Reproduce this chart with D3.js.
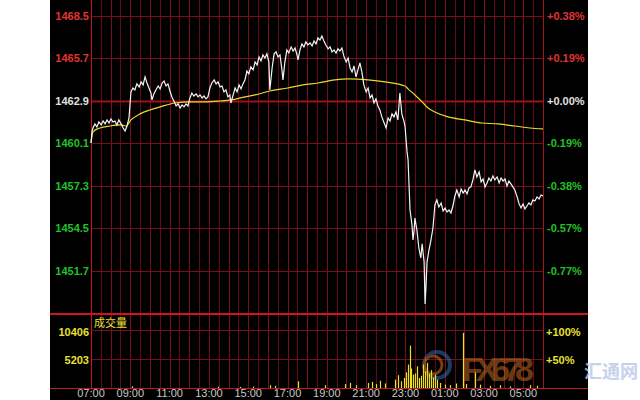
<!DOCTYPE html>
<html><head><meta charset="utf-8">
<script src="https://cdn.jsdelivr.net/npm/d3@7"></script>
<style>html,body{margin:0;padding:0;background:#fff;}svg{display:block;}</style>
</head><body><svg id="c" width="640" height="400"></svg>
<script>
const priceTimes=[0,3,6,12,18,24,31,37,43,49,55,61,67,73,79,85,92,98,104,110,116,122,128,134,140,147,153,159,165,171,177,183,186,192,198,205,211,217,223,229,235,241,247,253,260,266,272,278,284,290,296,302,308,314,321,327,333,339,345,351,357,363,369,376,382,388,394,400,406,412,418,424,427,434,440,446,452,458,464,470,476,482,488,495,501,507,513,519,525,531,537,543,546,553,559,565,571,577,583,586,592,598,604,611,617,623,629,632,638,644,650,656,662,669,675,681,687,693,699,705,711,717,724,730,736,742,748,754,760,766,772,779,785,791,797,803,809,815,821,827,833,840,846,852,858,864,870,876,882,888,895,901,907,913,919,925,931,937,943,949,956,959,962,965,968,971,974,980,983,986,989,995,1001,1007,1011,1017,1020,1023,1026,1032,1038,1044,1050,1056,1062,1069,1075,1081,1087,1093,1099,1105,1111,1117,1124,1130,1136,1142,1148,1154,1160,1166,1172,1178,1185,1191,1197,1203,1209,1215,1221,1227,1233,1240,1246,1252,1258,1264,1270,1276,1282,1288,1294,1301,1307,1313,1319,1325,1331,1337,1343,1349,1355,1362,1368,1374,1380];
const prices=[1460.12,1460.85,1461.11,1461.38,1461.18,1461.51,1461.31,1461.57,1461.38,1461.64,1461.44,1461.71,1461.51,1461.57,1461.31,1461.64,1461.38,1461.11,1460.91,1461.24,1461.77,1463.49,1463.75,1463.62,1464.02,1463.82,1464.15,1463.95,1464.48,1464.08,1463.75,1463.42,1462.96,1463.36,1463.62,1463.88,1463.69,1464.08,1464.21,1463.88,1464.02,1463.55,1463.16,1462.89,1462.56,1462.70,1462.43,1462.63,1462.50,1462.70,1462.56,1463.09,1463.42,1463.22,1463.36,1463.16,1463.29,1463.09,1463.22,1463.03,1463.16,1463.75,1464.08,1464.28,1464.02,1464.15,1463.82,1463.88,1463.49,1463.62,1463.16,1463.29,1462.76,1463.29,1463.75,1463.49,1463.95,1463.69,1464.02,1464.28,1464.87,1464.68,1465.14,1464.94,1465.47,1465.27,1465.80,1465.53,1465.93,1465.73,1466.00,1465.47,1463.62,1465.07,1466.00,1466.13,1465.80,1465.93,1464.94,1464.28,1465.47,1466.26,1466.06,1466.46,1466.19,1466.39,1465.93,1465.60,1466.26,1466.66,1466.46,1466.79,1466.59,1466.72,1466.52,1466.85,1466.66,1467.05,1466.92,1467.18,1466.85,1466.59,1466.33,1466.46,1466.13,1466.26,1466.06,1466.33,1466.19,1466.39,1465.86,1465.47,1465.73,1465.07,1464.81,1465.20,1464.48,1464.94,1465.40,1464.81,1463.95,1463.49,1463.75,1463.09,1463.29,1462.76,1463.03,1462.56,1462.30,1461.84,1461.44,1461.11,1461.77,1461.57,1462.04,1461.84,1462.17,1461.64,1463.42,1462.04,1461.51,1461.18,1460.32,1459.53,1459.00,1457.35,1455.70,1454.71,1453.72,1454.25,1455.17,1454.38,1453.19,1452.53,1453.46,1452.27,1449.50,1450.75,1452.27,1453.06,1453.72,1454.51,1456.03,1456.36,1455.90,1456.16,1455.63,1455.83,1455.57,1455.70,1455.50,1455.96,1456.62,1457.02,1456.56,1457.09,1456.82,1457.02,1456.76,1457.15,1457.22,1457.68,1458.34,1457.88,1458.21,1457.55,1457.75,1457.22,1457.48,1457.81,1457.61,1457.94,1457.68,1457.88,1457.48,1457.81,1457.61,1457.75,1457.28,1457.61,1457.42,1457.22,1457.02,1456.56,1456.10,1455.83,1456.10,1455.77,1455.96,1456.16,1456.03,1456.36,1456.29,1456.56,1456.43,1456.69,1456.62];
const avgTimes=[0,6,27,58,92,107,122,150,180,211,256,302,348,394,427,470,501,546,601,647,693,745,785,846,898,959,968,989,1011,1029,1050,1090,1142,1194,1243,1294,1340,1380];
const avgPrices=[1460.12,1460.85,1461.11,1461.24,1461.31,1461.24,1461.64,1462.04,1462.30,1462.50,1462.76,1462.83,1462.83,1462.89,1462.96,1463.16,1463.29,1463.55,1463.75,1463.95,1464.08,1464.28,1464.35,1464.28,1464.15,1463.88,1463.69,1463.29,1462.83,1462.43,1462.17,1461.84,1461.64,1461.44,1461.38,1461.24,1461.11,1461.05];
const volTimes=[125,388,455,495,546,562,632,714,775,790,809,846,858,870,882,898,928,937,946,956,962,968,974,977,983,989,995,1001,1007,1013,1020,1026,1032,1038,1044,1050,1056,1066,1081,1096,1114,1136,1145,1172,1188,1218,1249,1279,1340,1361];
const volumes=[300,250,200,250,500,400,1200,500,700,900,500,900,1100,700,1300,800,1500,2300,1200,1800,2800,4200,7600,3500,2400,2600,3900,1800,2200,4200,3000,4500,2600,3200,1900,2400,1500,900,600,500,800,9900,700,2800,600,400,500,300,500,400];
const priceTicks=[1468.5,1465.7,1462.9,1460.1,1457.3,1454.5,1451.7];
const pctLabels=["+0.38%","+0.19%","+0.00%","-0.19%","-0.38%","-0.57%","-0.77%"];
const timeLabels=["07:00","09:00","11:00","13:00","15:00","17:00","19:00","21:00","23:00","01:00","03:00","05:00"];
const volTicks=[10406,5203];
const volPctLabels=["+100%","+50%"];
const basePrice=1462.9;

const svg=d3.select("#c");
const L=91,R=543,T=0,B=313,VB=388;
svg.append("rect").attr("x",50).attr("y",0).attr("width",538).attr("height",400).attr("fill","#000");

const x=d3.scaleLinear().domain([0,1380]).range([L,R]);
const y=d3.scaleLinear().domain([1448.9,1468.5]).range([B,16]);
const yv=d3.scaleLinear().domain([0,10406]).range([VB,330]);

const vt=d3.range(30,1380,30);
const g=svg.append("g");
g.selectAll("line.v").data(vt).enter().append("line")
 .attr("x1",d=>Math.round(x(d))+0.5).attr("x2",d=>Math.round(x(d))+0.5)
 .attr("y1",T).attr("y2",VB).attr("stroke",d=>d%60===0?"#7c0e1a":"#640a14").attr("stroke-width",1);
g.selectAll("line.h").data(priceTicks).enter().append("line")
 .attr("x1",L).attr("x2",R).attr("y1",d=>Math.round(y(d))+0.5).attr("y2",d=>Math.round(y(d))+0.5)
 .attr("stroke",d=>d===basePrice?"#a0101c":"#7c0e1a").attr("stroke-width",d=>d===basePrice?2:1);
g.selectAll("line.vh").data(volTicks).enter().append("line")
 .attr("x1",L).attr("x2",R).attr("y1",d=>Math.round(yv(d))+0.5).attr("y2",d=>Math.round(yv(d))+0.5)
 .attr("stroke","#7c0e1a");
g.append("line").attr("x1",L+0.5).attr("x2",L+0.5).attr("y1",T).attr("y2",VB).attr("stroke","#c01822");
g.append("line").attr("x1",R+0.5).attr("x2",R+0.5).attr("y1",T).attr("y2",VB).attr("stroke","#a8141e");
g.append("line").attr("x1",50).attr("x2",588).attr("y1",B+1).attr("y2",B+1).attr("stroke","#d0141e").attr("stroke-width",2);
g.append("line").attr("x1",50).attr("x2",588).attr("y1",VB+0.5).attr("y2",VB+0.5).attr("stroke","#c01822").attr("stroke-width",1);

// watermark
const wm=svg.append("g").attr("opacity",0.55);
wm.append("circle").attr("cx",437).attr("cy",365).attr("r",13).attr("fill","none").attr("stroke","#3a6ab0").attr("stroke-width",4);
wm.append("circle").attr("cx",433).attr("cy",365).attr("r",9).attr("fill","none").attr("stroke","#d07020").attr("stroke-width",3);
wm.append("text").attr("x",462).attr("y",381).text("FX678").attr("font-family","Liberation Sans Narrow, Liberation Sans, sans-serif").attr("font-weight","bold").attr("font-size",34).attr("fill","#c06a20").attr("textLength",72);
svg.append("text").attr("x",584).attr("y",378).text("汇通网").attr("font-family","Noto Sans CJK SC").attr("font-weight","bold").attr("font-size",18).attr("fill","#b8c8e8").attr("opacity",0.8);

svg.selectAll("line.vol").data(volTimes).enter().append("line")
 .attr("x1",d=>Math.round(x(d))+0.5).attr("x2",d=>Math.round(x(d))+0.5)
 .attr("y1",VB).attr("y2",(d,i)=>yv(volumes[i])).attr("stroke","#f0e020").attr("stroke-width",1.2);

const avgLine=d3.line().x((d,i)=>x(avgTimes[i])).y(d=>y(d)).curve(d3.curveMonotoneX);
svg.append("path").attr("d",avgLine(avgPrices)).attr("fill","none").attr("stroke","#e8d830").attr("stroke-width",1.2);
const pLine=d3.line().x((d,i)=>x(priceTimes[i])).y(d=>y(d));
svg.append("path").attr("d",pLine(prices)).attr("fill","none").attr("stroke","#f4f4f4").attr("stroke-width",1.2);

const col=d=>d>basePrice+0.01?"#e03434":(d<basePrice-0.01?"#22c02a":"#e0e0e0");
const F="Liberation Sans, Arial, sans-serif";
svg.selectAll("text.pl").data(priceTicks).enter().append("text")
 .attr("x",89).attr("y",d=>y(d)+4).attr("text-anchor","end").text(d=>d.toFixed(1))
 .attr("font-family",F).attr("font-weight","bold").attr("font-size",11).attr("fill",col);
svg.selectAll("text.pr").data(priceTicks).enter().append("text")
 .attr("x",547).attr("y",d=>y(d)+4).text((d,i)=>pctLabels[i])
 .attr("font-family",F).attr("font-weight","bold").attr("font-size",11).attr("fill",col);
svg.selectAll("text.vl").data(volTicks).enter().append("text")
 .attr("x",89).attr("y",(d,i)=>i===0?yv(d)+6:yv(d)+5).attr("text-anchor","end").text(d=>d)
 .attr("font-family",F).attr("font-weight","bold").attr("font-size",11).attr("fill","#e8e030");
svg.selectAll("text.vr").data(volTicks).enter().append("text")
 .attr("x",546).attr("y",(d,i)=>i===0?yv(d)+6:yv(d)+5).text((d,i)=>volPctLabels[i])
 .attr("font-family",F).attr("font-weight","bold").attr("font-size",11).attr("fill","#e8e030");
svg.append("text").attr("x",94).attr("y",327).text("成交量").attr("font-family","Noto Sans CJK SC").attr("font-size",11).attr("fill","#e8e030");
svg.selectAll("text.t").data(timeLabels).enter().append("text")
 .attr("x",(d,i)=>x(i*120)).attr("y",397).attr("text-anchor","middle").text(d=>d)
 .attr("font-family",F).attr("font-size",11).attr("fill","#c8c8c8");
</script></body></html>
